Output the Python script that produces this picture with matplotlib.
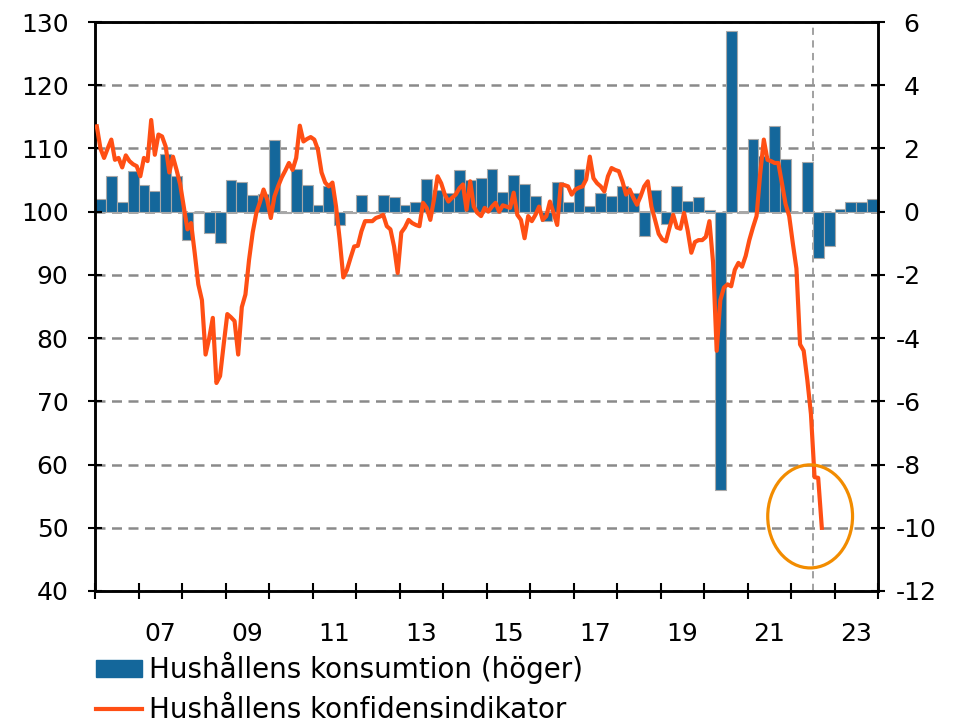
import numpy as np
import matplotlib
matplotlib.use("Agg")
import matplotlib.pyplot as plt
from matplotlib.patches import Ellipse, Patch
from matplotlib.lines import Line2D
from matplotlib.ticker import FuncFormatter

plt.rcParams['font.family'] = ['DejaVu Sans']
plt.rcParams['axes.unicode_minus'] = False

# Hushållens konsumtion, kvartalsförändring i % (höger axel), 2006 Q1 - 2023 Q4
consumption = [
    0.41, 1.12, 0.31, 1.28,    # 2006
    0.85, 0.66, 1.83, 1.12,    # 2007
    -0.89, -0.03, -0.66, -1.0,  # 2008
    1.0, 0.93, 0.54, 0.55,     # 2009
    2.26, -0.05, 1.36, 0.85,   # 2010
    0.22, 0.8, -0.41, -0.05,   # 2011
    0.52, -0.05, 0.54, 0.47,   # 2012
    0.22, 0.3, 1.04, 0.7,      # 2013
    0.6, 1.31, 1.0, 1.07,      # 2014
    1.36, 0.61, 1.15, 0.89,    # 2015
    0.5, -0.3, 0.93, 0.3,      # 2016
    1.36, 0.19, 0.6, 0.5,      # 2017
    0.82, 0.6, -0.78, 0.7,     # 2018
    -0.38, 0.8, 0.33, 0.47,    # 2019
    0.05, -8.8, 5.73, -0.05,   # 2020
    2.3, 1.75, 2.7, 1.68,      # 2021
    -0.03, 1.56, -1.46, -1.08,  # 2022
    0.1, 0.32, 0.32, 0.4,      # 2023
]

# Hushållens konfidensindikator, månadsvärden jan 2006 - sep 2022
confidence = [
    113.5, 110, 108.5, 110, 111.4, 108.2, 108.5, 107, 108.9, 108, 107.5, 107.2,    # 2006
    105.6, 108.5, 108, 114.5, 109, 112.2, 111.9, 110.3, 106.2, 108.7, 106.6, 104.3,  # 2007
    100.8, 97.2, 98.2, 93.5, 88.5, 86, 77.4, 80, 83.2, 72.9, 74, 79,              # 2008
    83.8, 83.3, 82.7, 77.4, 84.9, 86.9, 92.4, 96.7, 99.8, 101.5, 103.5, 101.9,     # 2009
    99, 102.4, 104, 105.4, 106.5, 107.7, 106.6, 108.5, 113.6, 111.1, 111.5, 111.8,  # 2010
    111.4, 109.8, 106.2, 104.6, 104, 104.6, 100.8, 95.6, 89.6, 90.8, 92.7, 94.5,   # 2011
    94.6, 96.9, 98.5, 98.5, 98.5, 99, 99.2, 99.5, 97.7, 97.2, 94.5, 90.3,         # 2012
    96.7, 97.5, 98.7, 98.2, 97.9, 97.7, 101.4, 100.6, 98.7, 101.9, 105.6, 104.5,   # 2013
    102.7, 101.6, 102.2, 102.7, 103.7, 104.3, 100.3, 104.8, 100.8, 99.8, 99.3, 100.6,  # 2014
    100, 100.8, 101.4, 100, 101, 100.8, 100.6, 103, 99.5, 98.7, 95.8, 99.3,        # 2015
    98.5, 99.5, 100.8, 98.7, 99.3, 101.6, 99.8, 97.9, 104.3, 104.2, 104, 102.7,    # 2016
    103.5, 103.8, 104, 105.1, 108.7, 105.3, 104.5, 104, 103.2, 105.6, 106.9, 106.6,  # 2017
    106.4, 104.8, 102.7, 103.5, 102.2, 101.1, 102.4, 104, 104.8, 100.8, 98.7, 96.5,  # 2018
    95.6, 95.3, 97.5, 99.5, 97.5, 97.3, 99.8, 97, 93.5, 95.2, 95.5, 95.5,          # 2019
    96, 98.5, 92, 78, 86, 88, 88.5, 88.2, 90.8, 91.9, 91.3, 93,                    # 2020
    95.5, 97.5, 99.3, 106, 111.4, 108.2, 108, 107.7, 107.7, 104.5, 101.2, 99.3,    # 2021
    95, 91, 79, 78, 73.4, 68, 58, 57.9, 50,                                        # 2022
]

year_labels = ['07', '09', '11', '13', '15', '17', '19', '21', '23']
label_years = [2007, 2009, 2011, 2013, 2015, 2017, 2019, 2021, 2023]
start_year = 2006
forecast_start = 2022.5

BLUE = '#14679b'
RED = '#ff4f14'
GRID = '#8a8a8a'

q_x = start_year + (np.arange(len(consumption)) + 0.5) / 4
m_x = start_year + (np.arange(len(confidence)) + 0.5) / 12

fig = plt.figure(figsize=(9.58, 7.26), dpi=100)
ax = fig.add_axes([95 / 958, 1 - 591 / 726, (878 - 95) / 958, (591 - 22) / 726])
ax2 = ax.twinx()

# bars on right axis, gridlines beneath them
ax2.set_axisbelow(True)
ax2.grid(axis='y', color=GRID, linestyle=(0, (4, 2.6)), linewidth=1.8)
ax2.bar(q_x, consumption, width=0.25, color=BLUE, edgecolor='#a8a8a8', linewidth=0.8, zorder=2)
ax2.axvline(forecast_start, color='#9a9a9a', linestyle=(0, (4, 3)), linewidth=1.3, zorder=1)
ax2.set_ylim(-12, 6)
ax2.set_yticks(np.arange(-12, 7, 2))
ax2.yaxis.set_major_formatter(FuncFormatter(lambda v, p: f"{int(v)}" if v < 0 else f" {int(v)}"))

# line on left axis, drawn on top
ax.set_zorder(ax2.get_zorder() + 1)
ax.patch.set_visible(False)
ax.plot(m_x, confidence, color=RED, linewidth=3, solid_joinstyle='round', zorder=3)
ax.set_ylim(40, 130)
ax.set_yticks(np.arange(40, 131, 10))
ax.set_xlim(start_year, 2024)

# circle marking latest outcome
ax.add_patch(Ellipse((2022.44, 51.8), 1.95, 16.3, fill=False, edgecolor='#f28c00', linewidth=2.3, zorder=4))

# x axis: ticks at year boundaries, labels mid-year
ax.set_xticks(np.arange(start_year, 2025, 1))
ax.set_xticklabels([])
ax.set_xticks(np.array(label_years) + 0.5, year_labels, minor=True)
ax.tick_params(axis='x', which='major', direction='inout', length=12, width=1.5, color='black')
ax.tick_params(axis='x', which='minor', length=0, pad=22, labelsize=18)

ax.tick_params(axis='y', direction='inout', length=10, width=1.5, labelsize=18, pad=14)
ax2.tick_params(axis='y', direction='inout', length=10, width=1.5, labelsize=18, pad=8)

for a in (ax, ax2):
    for s in a.spines.values():
        s.set_linewidth(1.8)
        s.set_color('black')

handles = [Patch(facecolor=BLUE, edgecolor=BLUE),
           Line2D([0], [0], color=RED, linewidth=3)]
labels = ['Hushållens konsumtion (höger)', 'Hushållens konfidensindikator']
fig.legend(handles, labels, loc='upper left', bbox_to_anchor=(96 / 958, 1 - 652 / 726),
           frameon=False, fontsize=20, handlelength=1.65, handleheight=0.55,
           handletextpad=0.25, labelspacing=0.42, borderaxespad=0, borderpad=0)

fig.savefig('out.png', dpi=100)
